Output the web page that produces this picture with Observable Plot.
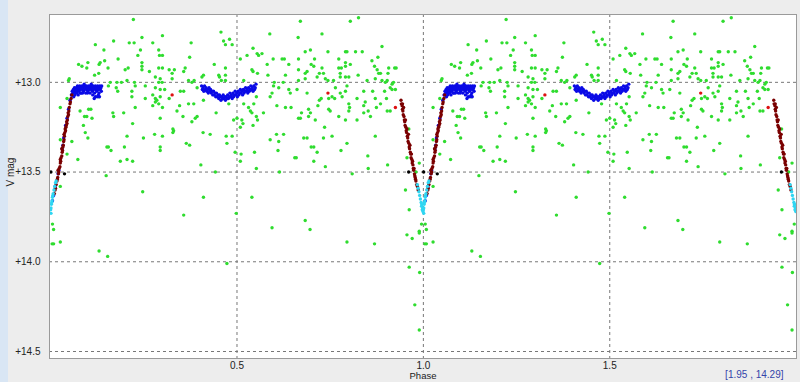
<!DOCTYPE html>
<html><head><meta charset="utf-8">
<script src="https://cdn.jsdelivr.net/npm/d3@7"></script>
<script src="https://cdn.jsdelivr.net/npm/@observablehq/plot@0.6"></script>
<style>
html,body{margin:0;padding:0;background:#ededed;}
body{width:800px;height:382px;overflow:hidden;position:relative;}
#strip{position:absolute;left:0;top:0;width:8px;height:382px;background:#d9e6f4;}
#chart{position:absolute;left:0;top:0;}
</style></head><body><div id="strip"></div><div id="chart"></div>
<script>
const xTicks = [0.5, 1.0, 1.5];
const yTicks = [13.0, 13.5, 14.0, 14.5];
const coordText = "[1.95 , 14.29]";

const green = [
[0.222,12.65],[0.169,12.77],[0.120,12.79],[0.211,12.78],[0.224,12.78],[0.245,12.75],[0.274,12.78],[0.300,12.74],
[0.143,12.82],[0.241,12.82],[0.290,12.82],[0.300,12.85],[0.292,12.85],[0.181,12.87],[0.234,12.85],
[0.075,12.90],[0.084,12.91],[0.100,12.89],[0.097,12.92],[0.133,12.89],[0.145,12.88],[0.130,12.90],[0.154,12.92],
[0.208,12.92],[0.200,12.93],[0.245,12.89],[0.245,12.91],[0.290,12.92],[0.300,12.92],[0.318,12.93],
[0.118,12.96],[0.129,12.95],[0.245,12.93],[0.265,12.94],[0.050,12.98],[0.048,12.99],[0.160,13.00],[0.178,13.00],
[0.190,13.00],[0.205,12.99],[0.225,13.00],[0.281,12.97],[0.290,13.00],[0.299,13.00],[0.294,12.98],[0.326,12.95],[0.326,12.98],
[0.155,13.02],[0.176,13.03],[0.227,13.02],[0.254,13.02],[0.281,13.03],[0.294,13.04],[0.306,13.04],[0.218,13.05],[0.180,13.05],
[0.129,13.08],[0.218,13.08],[0.254,13.09],[0.274,13.07],[0.281,13.09],[0.285,13.10],[0.281,13.11],[0.290,13.12],[0.274,13.13],
[0.294,13.08],[0.318,13.09],[0.044,13.09],[0.026,13.14],[0.079,13.16],[0.102,13.15],[0.108,13.15],[0.227,13.14],
[0.167,13.17],[0.196,13.17],[0.300,13.14],[0.091,13.19],[0.097,13.19],[0.169,13.19],[0.111,13.20],[0.294,13.20],
[0.220,13.23],[0.088,13.24],[0.093,13.28],[0.100,13.31],[0.205,13.30],[0.249,13.31],[0.279,13.29],[0.300,13.30],[0.330,13.27],
[0.057,13.33],[0.026,13.32],[0.155,13.36],[0.294,13.36],
[0.457,12.72],[0.588,12.73],[0.377,12.78],[0.464,12.77],[0.469,12.79],[0.480,12.76],[0.487,12.79],[0.543,12.81],
[0.373,12.86],[0.527,12.85],[0.554,12.84],[0.558,12.85],[0.567,12.84],[0.509,12.87],[0.597,12.87],[0.621,12.87],[0.627,12.87],[0.665,12.87],
[0.439,12.90],[0.469,12.92],[0.581,12.90],[0.639,12.90],[0.332,12.93],[0.361,12.92],[0.357,12.94],[0.410,12.96],[0.406,12.97],
[0.451,12.96],[0.453,12.97],[0.469,12.96],[0.540,12.93],[0.543,12.94],[0.555,12.95],[0.583,12.96],[0.630,12.96],
[0.370,12.99],[0.379,13.00],[0.385,12.99],[0.458,12.99],[0.469,12.99],[0.518,12.99],[0.600,13.00],[0.624,13.00],[0.665,12.99],
[0.348,13.05],[0.357,13.05],[0.393,13.03],[0.598,13.02],[0.612,13.03],[0.639,13.04],[0.643,13.06],[0.594,13.06],[0.589,13.08],
[0.346,13.13],[0.370,13.12],[0.384,13.12],[0.410,13.10],[0.478,13.12],[0.518,13.12],[0.552,13.08],[0.545,13.12],[0.531,13.14],
[0.607,13.13],[0.630,13.14],[0.645,13.14],[0.339,13.16],[0.355,13.19],[0.393,13.19],[0.388,13.20],[0.444,13.17],[0.536,13.16],
[0.540,13.17],[0.571,13.17],[0.491,13.21],[0.500,13.20],[0.552,13.19],[0.555,13.21],[0.665,13.20],[0.379,13.22],[0.513,13.21],
[0.516,13.23],[0.543,13.24],[0.509,13.25],[0.328,13.26],[0.328,13.28],[0.409,13.28],[0.428,13.29],[0.471,13.30],[0.487,13.30],
[0.606,13.29],[0.625,13.29],[0.364,13.34],[0.373,13.35],[0.473,13.34],[0.589,13.32],[0.612,13.33],
[0.670,12.66],[0.804,12.66],[0.826,12.64],[0.728,12.73],[0.664,12.75],[0.889,12.80],[0.683,12.83],[0.697,12.82],[0.744,12.83],
[0.791,12.83],[0.795,12.83],[0.818,12.83],[0.836,12.83],[0.708,12.87],[0.773,12.87],[0.878,12.86],[0.862,12.88],[0.699,12.90],
[0.706,12.91],[0.791,12.89],[0.804,12.90],[0.728,12.92],[0.773,12.92],[0.780,12.92],[0.791,12.91],[0.665,12.93],[0.869,12.91],
[0.876,12.93],[0.907,12.92],[0.923,12.92],[0.927,12.92],[0.688,12.94],[0.683,12.95],[0.721,12.95],[0.732,12.95],[0.777,12.95],
[0.825,12.96],[0.880,12.95],[0.885,12.95],[0.905,12.95],[0.683,12.98],[0.715,12.97],[0.737,12.98],[0.744,12.99],[0.759,12.99],
[0.777,12.97],[0.791,12.97],[0.800,12.97],[0.849,12.99],[0.871,12.98],[0.889,12.99],[0.898,13.00],[0.903,12.99],[0.916,13.01],[0.920,13.00],
[0.661,13.04],[0.688,13.06],[0.764,13.03],[0.777,13.06],[0.791,13.05],[0.795,13.02],[0.840,13.05],[0.864,13.05],[0.896,13.05],
[0.911,13.03],[0.916,13.04],[0.925,13.04],[0.726,13.09],[0.721,13.10],[0.746,13.09],[0.755,13.08],[0.762,13.09],[0.782,13.08],
[0.822,13.09],[0.871,13.09],[0.885,13.12],[0.901,13.09],[0.673,13.17],[0.692,13.15],[0.697,13.17],[0.717,13.13],[0.746,13.15],
[0.750,13.16],[0.800,13.12],[0.802,13.14],[0.800,13.16],[0.844,13.11],[0.840,13.13],[0.852,13.16],[0.874,13.14],[0.903,13.16],
[0.911,13.16],[0.670,13.20],[0.692,13.19],[0.710,13.21],[0.773,13.19],[0.791,13.21],[0.822,13.21],[0.840,13.17],[0.858,13.19],
[0.735,13.25],[0.755,13.30],[0.871,13.30],[0.961,13.26],[0.679,13.31],[0.688,13.31],[0.732,13.31],[0.795,13.34],[0.699,13.36],
[0.151,13.36],[0.162,13.38],[0.198,13.36],[0.294,13.38],[0.044,13.40],[0.073,13.43],[0.187,13.44],[0.205,13.43],[0.220,13.44],
[0.149,13.52],[0.026,13.58],[0.247,13.61],[0.005,13.79],[0.008,13.82],[0.004,13.90],[0.008,13.90],[0.026,13.89],[0.130,13.94],[0.153,13.97],
[0.495,13.39],[0.511,13.40],[0.509,13.44],[0.547,13.39],[0.610,13.38],[0.655,13.42],[0.403,13.46],[0.552,13.48],[0.442,13.50],
[0.614,13.50],[0.410,13.64],[0.540,13.64],[0.357,13.74],[0.498,13.73],[0.594,13.81],[0.473,14.01],
[0.706,13.36],[0.715,13.39],[0.779,13.38],[0.659,13.42],[0.706,13.44],[0.737,13.47],[0.851,13.41],[0.852,13.48],[0.904,13.46],
[0.809,13.51],[0.956,13.42],[0.989,13.45],[0.980,13.50],[0.952,13.60],[0.962,13.71],[0.683,13.77],[0.696,13.82],[0.795,13.89],
[0.869,13.90],[0.956,13.85],[0.970,13.87],[0.989,13.83],[0.989,13.84],[0.995,13.79],[0.962,14.03],[0.990,14.06],[0.977,14.24],[0.989,14.38]
];

const red = [[0.326,13.07],[0.744,13.06],[0.925,13.14]];

const blueA = [
[0.056,13.07],[0.058,13.05],[0.060,13.06],[0.061,13.04],[0.063,13.05],[0.064,13.03],[0.066,13.04],[0.067,13.06],[0.069,13.03],[0.070,13.05],
[0.072,13.02],[0.073,13.04],[0.075,13.03],[0.076,13.05],[0.078,13.02],[0.079,13.04],[0.081,13.03],[0.082,13.06],[0.084,13.02],[0.085,13.04],
[0.087,13.03],[0.088,13.05],[0.090,13.02],[0.091,13.04],[0.093,13.03],[0.094,13.06],[0.096,13.02],[0.097,13.04],[0.099,13.03],[0.100,13.05],
[0.102,13.02],[0.103,13.04],[0.105,13.03],[0.106,13.06],[0.108,13.02],[0.109,13.04],[0.111,13.03],[0.112,13.05],[0.114,13.02],[0.115,13.04],
[0.117,13.03],[0.118,13.06],[0.120,13.02],[0.121,13.04],[0.123,13.03],[0.124,13.05],[0.126,13.02],[0.127,13.04],[0.129,13.03],[0.130,13.06],
[0.132,13.02],[0.133,13.04],[0.135,13.03],[0.136,13.05],[0.131,13.08],[0.128,13.07],[0.120,13.08],[0.117,13.09],[0.113,13.07],[0.099,13.06],
[0.080,13.06],[0.074,13.07],[0.086,13.06],[0.137,13.02],[0.065,13.07],[0.062,13.08],[0.071,13.06],[0.090,13.01],[0.109,13.01],[0.125,13.08],
[0.056,13.07],[0.052,13.10],[0.048,13.15],[0.044,13.20],[0.040,13.24],[0.035,13.31],[0.033,13.35],[0.031,13.37],[0.022,13.49],[0.020,13.51],[0.012,13.58],[0.008,13.63],[0.005,13.66]
];

const blueB = [
[0.405,13.02],[0.407,13.04],[0.409,13.03],[0.411,13.05],[0.413,13.02],[0.415,13.04],[0.417,13.03],[0.419,13.05],[0.421,13.04],[0.423,13.06],
[0.425,13.03],[0.427,13.05],[0.429,13.04],[0.431,13.06],[0.433,13.05],[0.435,13.07],[0.437,13.05],[0.439,13.07],[0.441,13.06],[0.443,13.08],
[0.445,13.06],[0.447,13.08],[0.449,13.07],[0.451,13.09],[0.453,13.07],[0.455,13.08],[0.457,13.10],[0.459,13.08],[0.461,13.09],[0.463,13.07],
[0.465,13.09],[0.467,13.08],[0.469,13.10],[0.471,13.08],[0.473,13.09],[0.475,13.07],[0.477,13.09],[0.479,13.08],[0.481,13.06],[0.483,13.08],
[0.485,13.07],[0.487,13.09],[0.489,13.06],[0.491,13.08],[0.493,13.07],[0.495,13.05],[0.497,13.07],[0.499,13.06],[0.501,13.08],[0.503,13.05],
[0.505,13.07],[0.507,13.06],[0.509,13.04],[0.511,13.06],[0.513,13.05],[0.515,13.07],[0.517,13.04],[0.519,13.06],[0.521,13.05],[0.523,13.03],
[0.525,13.05],[0.527,13.04],[0.529,13.06],[0.531,13.03],[0.533,13.05],[0.535,13.04],[0.537,13.02],[0.539,13.04],[0.541,13.03],[0.543,13.05],
[0.545,13.02],[0.547,13.04],[0.549,13.03],[0.551,13.01]
];

const darkRed = [
[0.057,13.07],[0.055,13.09],[0.053,13.11],[0.052,13.12],[0.050,13.14],[0.049,13.16],[0.047,13.17],[0.046,13.19],[0.045,13.21],[0.043,13.22],
[0.042,13.24],[0.041,13.25],[0.040,13.27],[0.038,13.28],[0.037,13.30],[0.036,13.32],[0.035,13.33],[0.034,13.35],[0.033,13.36],[0.032,13.38],
[0.031,13.39],[0.030,13.41],[0.028,13.42],[0.027,13.44],[0.026,13.45],[0.025,13.47],[0.023,13.48],[0.022,13.50],[0.021,13.51],[0.019,13.53],
[0.018,13.54],[0.017,13.55],[0.015,13.57],[0.013,13.59],[0.012,13.60],[0.010,13.62],
[0.048,13.18],[0.044,13.23],[0.039,13.26],[0.036,13.29],[0.030,13.37],[0.026,13.43],[0.020,13.49],
[0.940,13.10],[0.941,13.12],[0.943,13.13],[0.944,13.15],[0.945,13.16],[0.946,13.18],[0.948,13.19],[0.949,13.21],[0.950,13.22],[0.951,13.24],
[0.953,13.25],[0.954,13.27],[0.955,13.28],[0.957,13.30],[0.958,13.31],[0.959,13.33],[0.961,13.34],[0.962,13.36],[0.963,13.37],[0.965,13.39],
[0.966,13.40],[0.967,13.42],[0.969,13.43],[0.970,13.45],[0.972,13.46],[0.973,13.48],[0.974,13.49],[0.976,13.51],[0.977,13.52],[0.979,13.54],
[0.980,13.55],[0.982,13.57],[0.984,13.58],[0.986,13.60],
[0.944,13.12],[0.947,13.14],[0.952,13.21],[0.956,13.26],[0.960,13.29],[0.964,13.35],[0.968,13.40],[0.971,13.44],[0.975,13.48],[0.978,13.53]
];

const cyan = [
[0.000,13.71],[0.001,13.70],[0.002,13.68],[0.003,13.67],[0.004,13.66],[0.005,13.64],[0.006,13.63],[0.007,13.62],[0.009,13.60],[0.011,13.58],
[0.013,13.56],[0.015,13.55],[0.001,13.73],
[0.984,13.57],[0.986,13.59],[0.988,13.61],[0.990,13.63],[0.992,13.65],[0.994,13.67],[0.996,13.68],[0.998,13.70],[0.999,13.72],[0.997,13.71],[0.995,13.69]
];

const black = [[0.9605,13.50],[0.0373,13.51],[0.0008,13.50]];

// phase-folded light curve is shown over two cycles
const twoCycles = pairs => pairs.flatMap(([p, m]) => [{phase: p, mag: m}, {phase: p + 1, mag: m}]);

const dots = (pairs, fill) => Plot.dot(twoCycles(pairs), {x: "phase", y: "mag", r: 1.7, fill, clip: true});

const plot = Plot.plot({
  width: 800, height: 382,
  marginLeft: 49, marginRight: 4, marginTop: 14, marginBottom: 24,
  style: {background: "transparent", fontFamily: "'Liberation Sans', Arial, sans-serif", fontSize: "10px", color: "#222"},
  x: {domain: [-0.003, 2.001]},
  y: {domain: [12.622, 14.539], reverse: true},
  marks: [
    Plot.frame({fill: "white", stroke: "none"}),
    Plot.gridX(xTicks, {stroke: "#777", strokeOpacity: 1, strokeDasharray: "3,3"}),
    Plot.gridY(yTicks, {stroke: "#777", strokeOpacity: 1, strokeDasharray: "3,3"}),
    Plot.axisX(xTicks, {tickSize: 0, tickPadding: 3, tickFormat: d => d.toFixed(1), label: null}),
    Plot.axisY(yTicks, {tickSize: 0, tickPadding: 9, tickFormat: d => "+" + d.toFixed(1), label: null}),
    dots(green, "#2fdc2f"),
    dots(red, "#dd1111"),
    dots(blueA, "#0a0ae6"),
    dots(blueB, "#0a0ae6"),
    dots(darkRed, "#7a0000"),
    dots(cyan, "#2fd6f2"),
    dots(black, "#000"),
    Plot.frame({stroke: "#9a9a9a"}),
    Plot.text(["Phase"], {text: d => d, frameAnchor: "bottom", dy: 20, fontSize: 9.5, fill: "#222"}),
    Plot.text(["V mag"], {text: d => d, frameAnchor: "left", dx: -39, rotate: -90, fill: "#222"}),
    Plot.text([coordText], {text: d => d, frameAnchor: "bottom-right", textAnchor: "end", dx: -13, dy: 19, fill: "#3344aa"})
  ]
});
document.getElementById("chart").appendChild(plot);
</script></body></html>
